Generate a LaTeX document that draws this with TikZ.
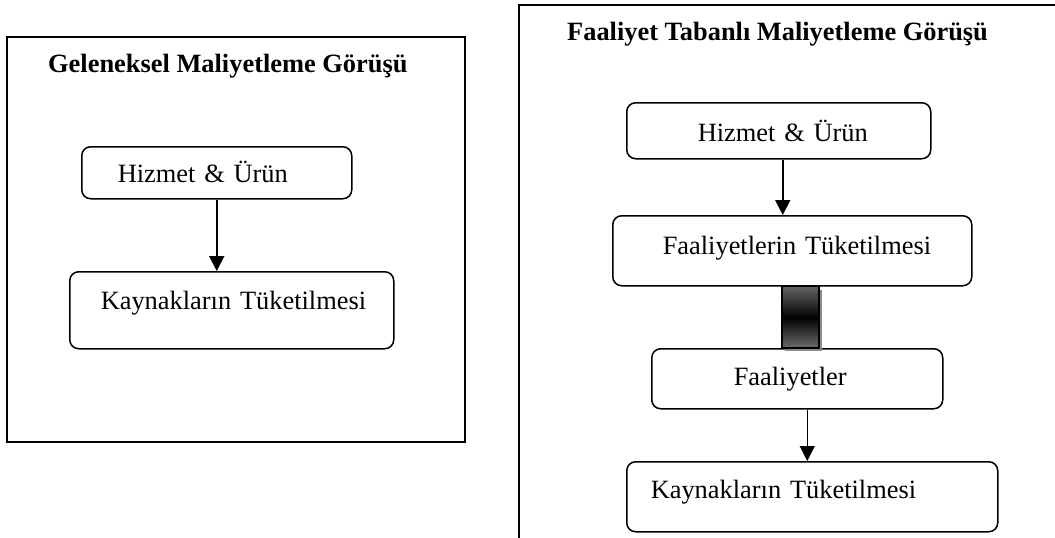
\documentclass[tikz,border=0pt]{standalone}
\usepackage{fontspec}
\setmainfont{Liberation Serif}
\usetikzlibrary{arrows.meta}
\pgfdeclareverticalshading{barshade}{100bp}{color(0bp)=(black!58); color(25bp)=(black!58);
  color(38bp)=(black!80); color(50bp)=(black); color(62bp)=(black!80);
  color(75bp)=(black!62); color(100bp)=(black!62)}

\begin{document}
\begin{tikzpicture}[x=1pt,y=-1pt,
  every node/.style={font=\fontsize{26.4}{30}\selectfont,inner ysep=0pt},
  frame/.style={draw,line width=2.4pt},
  title/.style={anchor=base west,inner sep=0pt,font=\fontsize{26.4}{30}\selectfont\bfseries},
  box/.style n args={4}{draw,line width=1.5pt,rounded corners=9pt,anchor=north west,
    align=left,text width=#1,inner xsep=#2,text height=#3,text depth=#4},
  flow/.style={draw,line width=1.9pt,-{Triangle[length=15pt,width=15pt]}},
  bar/.style={draw,line width=1.5pt,shading=barshade}]
\path[use as bounding box,clip] (0,0) rectangle (1055,538);
\draw[frame] (7,37) rectangle (465,442);
\draw[frame] (519,5) rectangle (1075,560);
\node[title] (titL) at (48,72) {Geleneksel Maliyetleme Görüşü};
\node[title] (titR) at (567,40) {Faaliyet Tabanlı Maliyetleme Görüşü};
\node[box={198pt}{36pt}{36pt}{16pt}] (hizL) at (81,146) {Hizmet~\&~Ürün};
\node[box={262pt}{31pt}{38pt}{39pt}] (kayL) at (69,271) {Kaynakların~Tüketilmesi};
\node[box={162pt}{71pt}{39pt}{17pt}] (hizR) at (626,102) {Hizmet~\&~Ürün};
\node[box={259pt}{50pt}{39pt}{31pt}] (faaT) at (612,215) {Faaliyetlerin~Tüketilmesi};
\node[box={127pt}{82pt}{37pt}{23pt}] (faa) at (651,348) {Faaliyetler};
\node[box={323pt}{24pt}{37pt}{33pt}] (kayR) at (626,461) {Kaynakların~Tüketilmesi};
\draw[flow] (hizL.south) -- (hizL.south |- kayL.north);
\draw[flow] ([xshift=4pt]hizR.south) -- ([xshift=4pt]hizR.south |- faaT.north);
\fill[black!45] ([xshift=-7.5pt,yshift=-3pt]faaT.south) rectangle ([xshift=29.5pt,yshift=-3pt]faaT.south |- faa.north);
\draw[bar] ([xshift=-10.5pt]faaT.south) rectangle ([xshift=26.5pt]faaT.south |- faa.north);
\draw[flow,line width=1.1pt] ([xshift=10pt]faa.south) -- ([xshift=10pt]faa.south |- kayR.north);
\end{tikzpicture}
\end{document}
